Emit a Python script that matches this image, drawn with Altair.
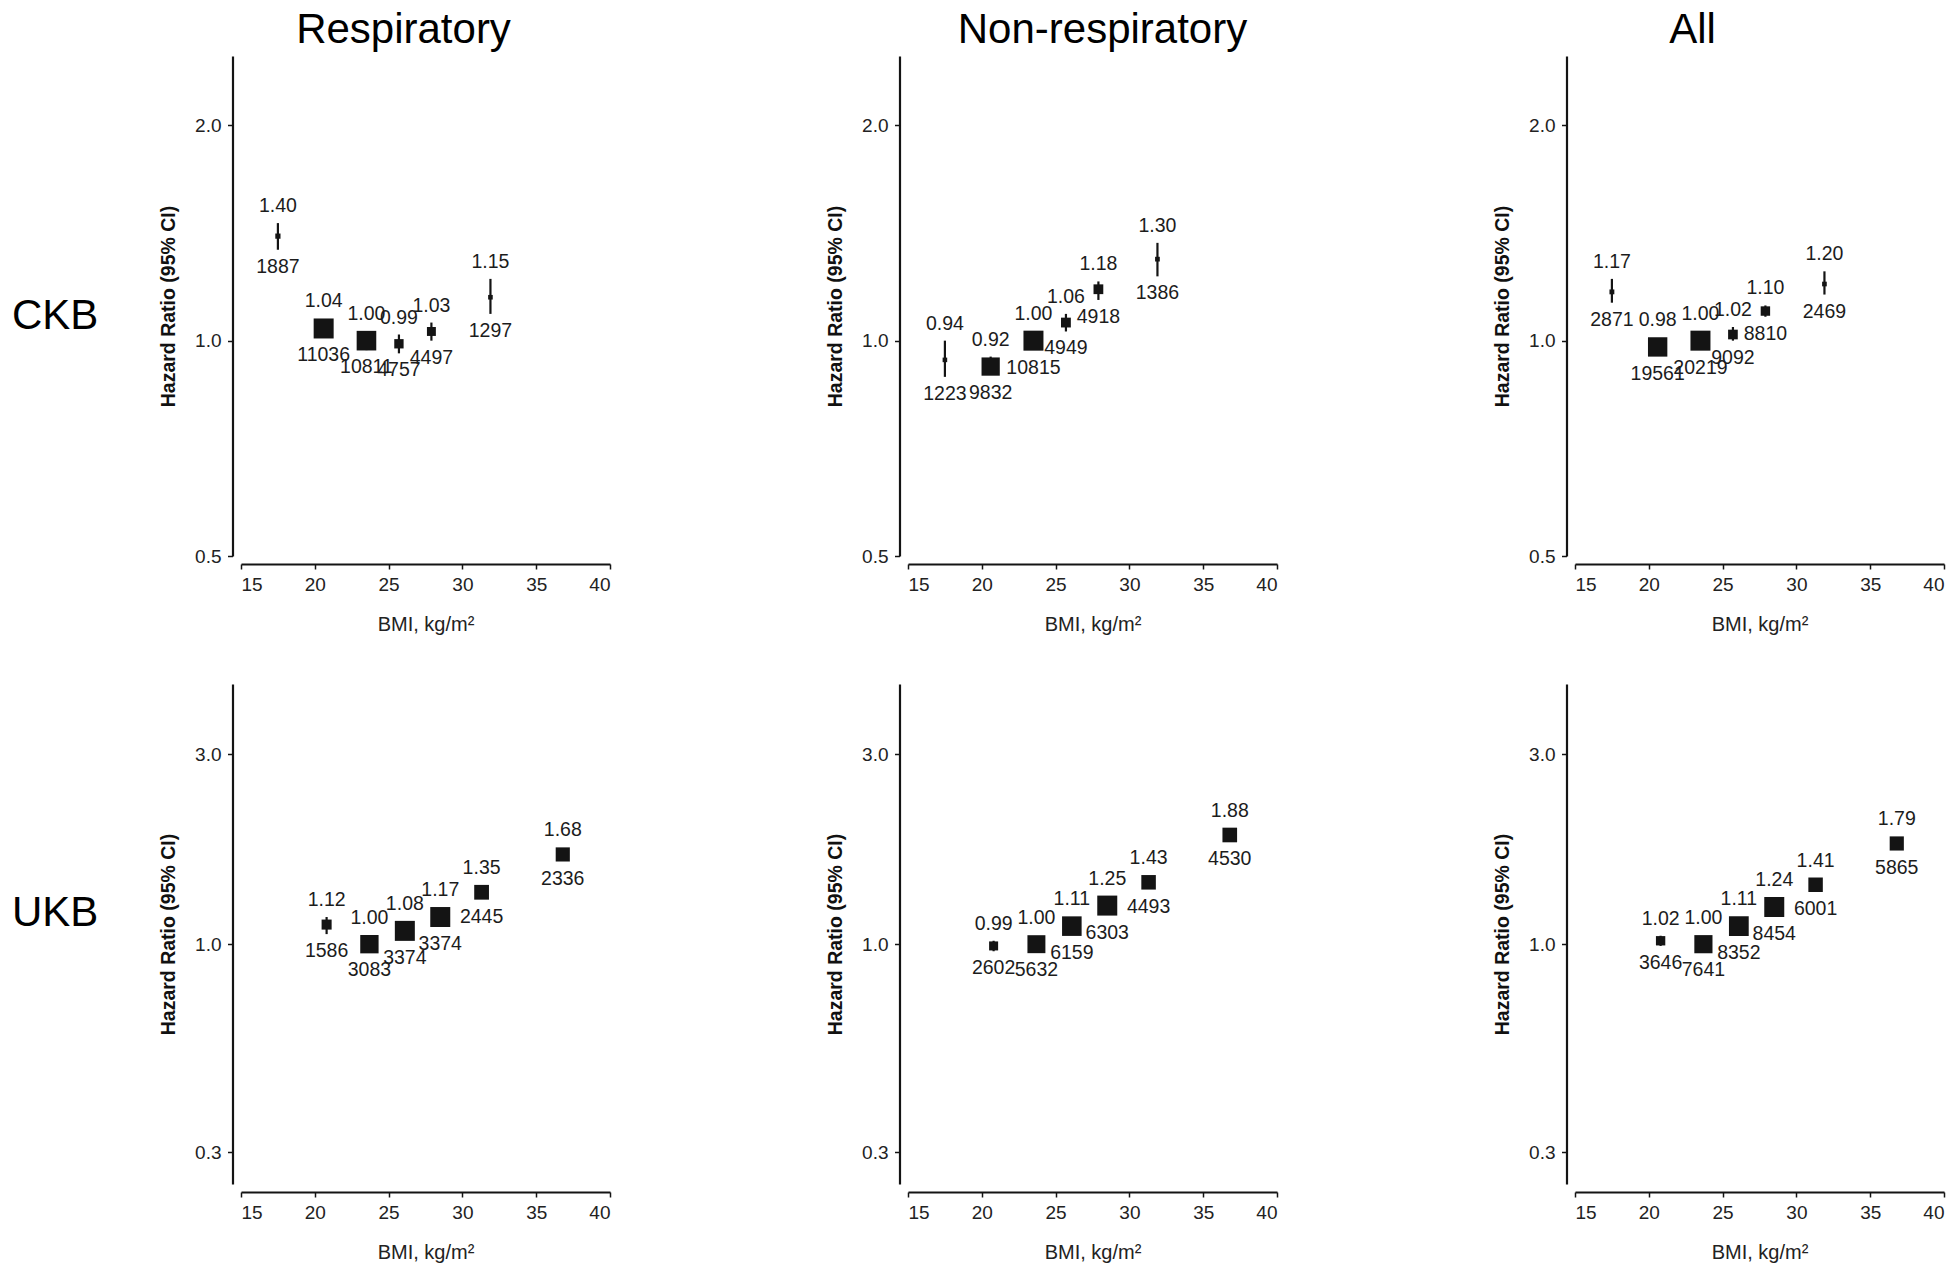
import math
import altair as alt
import pandas as pd

# ---------------- data ----------------
causes = ["Respiratory", "Non-respiratory", "All"]
cohorts = ["CKB", "UKB"]

ckb_bmi = [17.5, 20.6, 23.5, 25.7, 27.9, 31.9]
ukb_bmi = [20.8, 23.7, 26.1, 28.5, 31.3, 36.8]

ckb_resp_hr = [1.40, 1.04, 1.00, 0.99, 1.03, 1.15]
ckb_resp_lo = [1.34, 1.01, 0.97, 0.96, 1.00, 1.09]
ckb_resp_hi = [1.46, 1.07, 1.03, 1.02, 1.06, 1.22]
ckb_resp_n = [1887, 11036, 10811, 4757, 4497, 1297]

ckb_nonresp_hr = [0.94, 0.92, 1.00, 1.06, 1.18, 1.30]
ckb_nonresp_lo = [0.89, 0.90, 0.98, 1.03, 1.14, 1.23]
ckb_nonresp_hi = [1.00, 0.95, 1.02, 1.09, 1.21, 1.37]
ckb_nonresp_n = [1223, 9832, 10815, 4949, 4918, 1386]

ckb_all_hr = [1.17, 0.98, 1.00, 1.02, 1.10, 1.20]
ckb_all_lo = [1.13, 0.96, 0.98, 1.00, 1.08, 1.16]
ckb_all_hi = [1.22, 1.00, 1.02, 1.045, 1.12, 1.25]
ckb_all_n = [2871, 19561, 20219, 9092, 8810, 2469]

ukb_resp_hr = [1.12, 1.00, 1.08, 1.17, 1.35, 1.68]
ukb_resp_lo = [1.06, 0.97, 1.05, 1.13, 1.30, 1.62]
ukb_resp_hi = [1.17, 1.03, 1.11, 1.21, 1.40, 1.74]
ukb_resp_n = [1586, 3083, 3374, 3374, 2445, 2336]

ukb_nonresp_hr = [0.99, 1.00, 1.11, 1.25, 1.43, 1.88]
ukb_nonresp_lo = [0.96, 0.97, 1.08, 1.22, 1.39, 1.83]
ukb_nonresp_hi = [1.02, 1.03, 1.14, 1.28, 1.47, 1.93]
ukb_nonresp_n = [2602, 5632, 6159, 6303, 4493, 4530]

ukb_all_hr = [1.02, 1.00, 1.11, 1.24, 1.41, 1.79]
ukb_all_lo = [0.99, 0.98, 1.09, 1.22, 1.38, 1.75]
ukb_all_hi = [1.05, 1.02, 1.13, 1.26, 1.44, 1.83]
ukb_all_n = [3646, 7641, 8352, 8454, 6001, 5865]

x_ticks = [15, 20, 25, 30, 35, 40]
ckb_y_domain = [0.5, 2.5]
ckb_y_ticks = [0.5, 1.0, 2.0]
ukb_y_domain = [0.25, 4.5]
ukb_y_ticks = [0.3, 1.0, 3.0]

series = {
    ("CKB", "Respiratory"): (ckb_bmi, ckb_resp_hr, ckb_resp_lo, ckb_resp_hi, ckb_resp_n),
    ("CKB", "Non-respiratory"): (ckb_bmi, ckb_nonresp_hr, ckb_nonresp_lo, ckb_nonresp_hi, ckb_nonresp_n),
    ("CKB", "All"): (ckb_bmi, ckb_all_hr, ckb_all_lo, ckb_all_hi, ckb_all_n),
    ("UKB", "Respiratory"): (ukb_bmi, ukb_resp_hr, ukb_resp_lo, ukb_resp_hi, ukb_resp_n),
    ("UKB", "Non-respiratory"): (ukb_bmi, ukb_nonresp_hr, ukb_nonresp_lo, ukb_nonresp_hi, ukb_nonresp_n),
    ("UKB", "All"): (ukb_bmi, ukb_all_hr, ukb_all_lo, ukb_all_hi, ukb_all_n),
}

# ---------------- layout / style ----------------
W, H = 369, 500
FONT = "Liberation Sans"
INK = "#141414"
SIZE_MIN, SIZE_MAX = 16, 400      # square area range (px^2)
LABEL_GAP = 17

title_dx = {"Respiratory": -22, "Non-respiratory": 10, "All": -67}
row_label_y = {"CKB": 260, "UKB": 229}


def build_df(cohort, cause, ydom):
    bmi, hr, lo, hi, n = series[(cohort, cause)]
    k = H / math.log(ydom[1] / ydom[0])   # px per log unit of the y scale
    nmax = max(n)
    rows = []
    for b, h, l, u, c in zip(bmi, hr, lo, hi, n):
        frac = (c / nmax) ** 2
        half = math.sqrt(SIZE_MIN + (SIZE_MAX - SIZE_MIN) * frac) / 2
        up = max(k * math.log(u / h), half) + LABEL_GAP
        dn = max(k * math.log(h / l), half) + LABEL_GAP
        rows.append(dict(bmi=b, hr=h, lo=l, hi=u, n=c, frac=frac,
                         y_up=h * math.exp(up / k),
                         y_dn=h * math.exp(-dn / k)))
    return pd.DataFrame(rows)


def panel(cohort, cause, top_row, left_col):
    ydom = ckb_y_domain if cohort == "CKB" else ukb_y_domain
    yticks = ckb_y_ticks if cohort == "CKB" else ukb_y_ticks
    df = build_df(cohort, cause, ydom)

    xscale = alt.Scale(domain=[15, 40], nice=False, zero=False)
    yscale = alt.Scale(type="log", domain=ydom, nice=False)
    xaxis = alt.Axis(values=x_ticks, title="BMI, kg/m²", grid=False, offset=8,
                     domainColor=INK, domainWidth=2.2, tickColor=INK, tickWidth=1.5,
                     tickSize=5, labelFontSize=19, labelColor="#222", labelPadding=6,
                     labelFont=FONT, titleFont=FONT, titleFontSize=20,
                     titleFontWeight="normal", titleColor="#222", titlePadding=20)
    yaxis = alt.Axis(values=yticks, format=".1f", title="Hazard Ratio (95% CI)",
                     grid=False, offset=8.5, domainColor=INK, domainWidth=2.2,
                     tickColor=INK, tickWidth=1.5, tickSize=5, labelFontSize=19,
                     labelColor="#222", labelPadding=6.5, labelFont=FONT,
                     titleFont=FONT, titleFontSize=19.5, titleFontWeight="bold",
                     titleColor="#111", titlePadding=16)

    x = alt.X("bmi:Q", scale=xscale, axis=xaxis)
    base = alt.Chart(df)

    ci = base.mark_rule(color=INK, strokeWidth=2.2).encode(
        x=x, y=alt.Y("lo:Q", scale=yscale, axis=yaxis), y2="hi:Q")
    sq = base.mark_square(color=INK, opacity=1, filled=True).encode(
        x=x, y=alt.Y("hr:Q", scale=yscale, axis=yaxis),
        size=alt.Size("frac:Q", scale=alt.Scale(domain=[0, 1], range=[SIZE_MIN, SIZE_MAX]),
                      legend=None))
    up_txt = base.mark_text(font=FONT, fontSize=19.5, color="#1c1c1c",
                            baseline="middle", align="center").encode(
        x=x, y=alt.Y("y_up:Q", scale=yscale, axis=yaxis),
        text=alt.Text("hr:Q", format=".2f"))
    dn_txt = base.mark_text(font=FONT, fontSize=19.5, color="#1c1c1c",
                            baseline="middle", align="center").encode(
        x=x, y=alt.Y("y_dn:Q", scale=yscale, axis=yaxis),
        text=alt.Text("n:Q", format="d"))

    layers = [ci, sq, up_txt, dn_txt]
    if left_col:
        lab = alt.Chart(pd.DataFrame({"lab": [cohort]})).mark_text(
            font=FONT, fontSize=42, color="black", align="left", baseline="middle"
        ).encode(x=alt.value(-229), y=alt.value(row_label_y[cohort]), text="lab:N")
        layers.append(lab)
    if top_row:
        ttl = alt.Chart(pd.DataFrame({"lab": [cause]})).mark_text(
            font=FONT, fontSize=42, color="black", align="center", baseline="alphabetic"
        ).encode(x=alt.value(W / 2 + title_dx[cause]), y=alt.value(-13), text="lab:N")
        layers.append(ttl)

    return alt.layer(*layers).properties(width=W, height=H)


panels = []
for ri, cohort in enumerate(cohorts):
    for ci_, c in enumerate(causes):
        panels.append(panel(cohort, c, ri == 0, ci_ == 0))

chart = alt.concat(*panels, columns=3, spacing={"row": 128, "column": 298},
                   bounds="flush").properties(
    padding={"left": 12, "top": 9, "right": 5, "bottom": 5}
).configure(font=FONT, background="white").configure_view(stroke=None)

chart.save("out.html", embed_options={"renderer": "svg", "actions": False})
